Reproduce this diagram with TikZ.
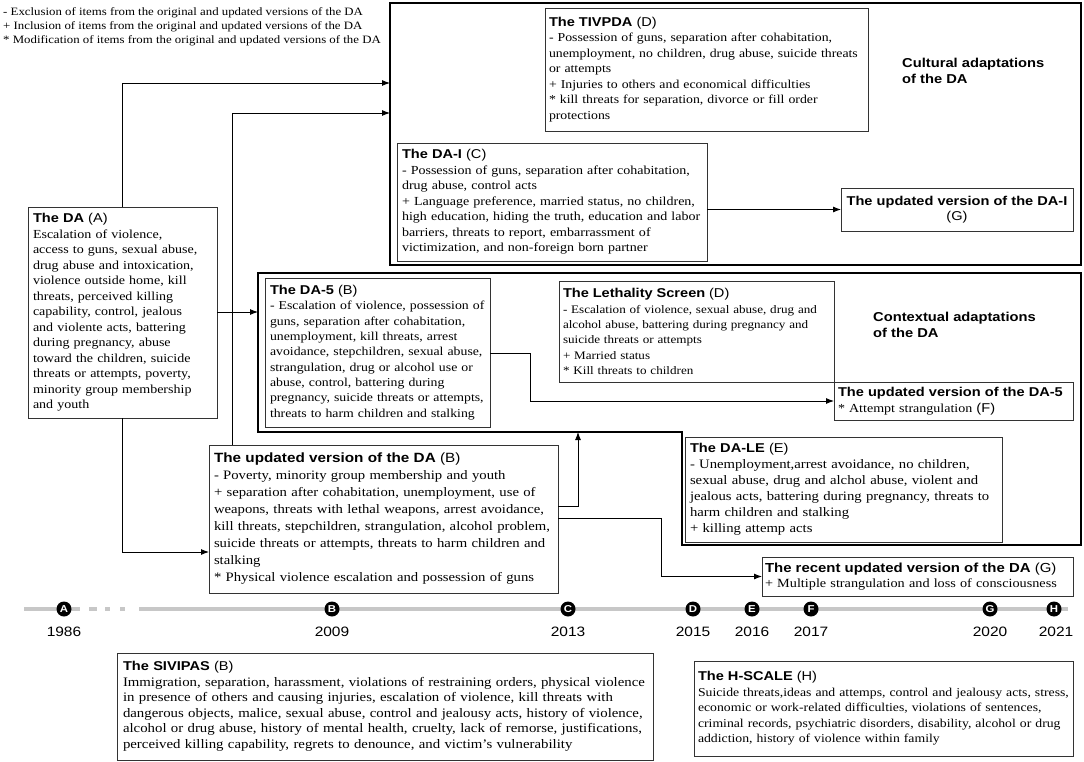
\documentclass[tikz,border=0pt]{standalone}
\usepackage{fontspec}
\setmainfont{Liberation Serif}[FakeStretch=1.14]
\newfontfamily\hd{Liberation Sans}[FakeStretch=1.14]
\usetikzlibrary{arrows.meta,calc}
\newcommand{\bt}[1]{{\hd\bfseries\fontsize{12.8}{15}\selectfont #1}}
\newcommand{\rt}[1]{{\hd\fontsize{12.8}{15}\selectfont #1}}
\newcommand{\jl}[1]{\makebox[179pt][s]{#1}}
\tikzset{
  box/.style={draw=black!80, line width=0.9pt, anchor=north west, align=left,
    inner xsep=5pt, inner ysep=3pt, outer sep=0pt, fill=white,
    font=\fontsize{12.3}{15.5}\selectfont},
  frame/.style={draw=black, line width=1.8pt},
  conn/.style={draw=black, line width=0.9pt},
  arr/.style={conn, -{Latex[length=8pt,width=6pt]}},
  tl/.style={draw=black!22, line width=4.5pt},
  tc/.style={circle, fill=black, text=white, inner sep=0pt, minimum size=15pt,
    font=\hd\bfseries\fontsize{10}{10}\selectfont},
  yr/.style={inner sep=0pt, font=\hd\fontsize{13.6}{14}\selectfont},
  lbl/.style={anchor=north west, align=left, inner sep=0pt,
    font=\hd\bfseries\fontsize{12.9}{16}\selectfont}
}
\begin{document}
\begin{tikzpicture}[x=1pt,y=-1pt]
\useasboundingbox (0,0) rectangle (1084,762);

% legend
\node[anchor=north west, align=left, inner sep=0pt,
  font=\fontsize{11.25}{14}\selectfont] (legend) at (3,7)
  {- Exclusion of items from the original and updated versions of the DA\\
   + Inclusion of items from the original and updated versions of the DA\\
   {}* Modification of items from the original and updated versions of the DA};

% cultural frame
\node[frame, anchor=north west, inner sep=0pt, outer sep=0pt,
  minimum width=691pt, minimum height=262pt] (cult) at (390,3) {};
\node[lbl] (cultlbl) at (902,58) {Cultural adaptations\\of the DA};

\node[box, inner xsep=4pt, text width=315pt, minimum height=123pt,
  font=\fontsize{12.1}{15.5}\selectfont] (tiv) at (545,8)
 {\bt{The TIVPDA} \rt{(D)}\\
  - Possession of guns, separation after cohabitation,\\
  unemployment, no children, drug abuse, suicide threats\\
  or attempts\\
  + Injuries to others and economical difficulties\\
  {}* kill threats for separation, divorce or fill order\\
  protections};

\node[box, text width=300pt, minimum height=118pt] (dai) at (397,143)
 {\bt{The DA-I} \rt{(C)}\\
  - Possession of guns, separation after cohabitation,\\
  drug abuse, control acts\\
  + Language preference, married status, no children,\\
  high education, hiding the truth, education and labor\\
  barriers, threats to report, embarrassment of\\
  victimization, and non-foreign born partner};

\node[box, align=center, inner xsep=3pt, text width=226pt, minimum height=43pt] (udai) at (841,188)
 {\bt{The updated version of the DA-I}\\\rt{(G)}};

% contextual frame
\coordinate (ctxin) at (258,312);
\coordinate (ctxbot) at (578,432);
\draw[frame] (258,273) -- (1081,273) -- (1081,545) -- (682,545) -- (682,432) -- (258,432) -- cycle;
\node[lbl] (ctxlbl) at (873,312) {Contextual adaptations\\of the DA};

\node[box, text width=215pt, minimum height=149pt, font=\fontsize{12.1}{15.3}\selectfont] (da5) at (265,278)
 {\bt{The DA-5} \rt{(B)}\\
  - Escalation of violence, possession of\\
  guns, separation after cohabitation,\\
  unemployment, kill threats, arrest\\
  avoidance, stepchildren, sexual abuse,\\
  strangulation, drug or alcohol use or\\
  abuse, control, battering during\\
  pregnancy, suicide threats or attempts,\\
  threats to harm children and stalking};

\node[box, inner xsep=4pt, text width=267pt, minimum height=101pt, font=\fontsize{11.5}{15.3}\selectfont] (leth) at (559,281)
 {\bt{The Lethality Screen} \rt{(D)}\\
  - Escalation of violence, sexual abuse, drug and\\
  alcohol abuse, battering during pregnancy and\\
  suicide threats or attempts\\
  + Married status\\
  {}* Kill threats to children};

\node[box, inner xsep=4pt, text width=231pt, minimum height=38pt] (uda5) at (834,382)
 {\bt{The updated version of the DA-5}\\
  {}* Attempt strangulation \rt{(F)}};

\node[box, text width=307pt, minimum height=105pt, font=\fontsize{12.9}{16}\selectfont] (dale) at (685,437)
 {\bt{The DA-LE} \rt{(E)}\\
  - Unemployment,arrest avoidance, no children,\\
  sexual abuse, drug and alchol abuse, violent and\\
  jealous acts, battering during pregnancy, threats to\\
  harm children and stalking\\
  + killing attemp acts};

% the DA
\node[box, text width=179pt, minimum height=211pt] (da) at (28,207)
 {\bt{The DA} \rt{(A)}\\
  \jl{Escalation of violence,}\\
  \jl{access to guns, sexual abuse,}\\
  \jl{drug abuse and intoxication,}\\
  \jl{violence outside home, kill}\\
  \jl{threats, perceived killing}\\
  \jl{capability, control, jealous}\\
  \jl{and violente acts, battering}\\
  \jl{during pregnancy, abuse}\\
  \jl{toward the children, suicide}\\
  \jl{threats or attempts, poverty,}\\
  \jl{minority group membership}\\
  and youth};

\node[box, text width=339pt, minimum height=148pt, font=\fontsize{12.9}{17}\selectfont] (uda) at (209,445)
 {{\hd\bfseries\fontsize{13.4}{17}\selectfont The updated version of the DA} {\hd\fontsize{13.4}{17}\selectfont (B)}\\
  - Poverty, minority group membership and youth\\
  + separation after cohabitation, unemployment, use of\\
  weapons, threats with lethal weapons, arrest avoidance,\\
  kill threats, stepchildren, strangulation, alcohol problem,\\
  suicide threats or attempts, threats to harm children and\\
  stalking\\
  {}* Physical violence escalation and possession of guns};

\node[box, inner xsep=3pt, text width=305pt, minimum height=39pt, font=\fontsize{12.5}{15.5}\selectfont] (rec) at (762,557)
 {{\hd\bfseries\fontsize{13.1}{15}\selectfont The recent updated version of the DA} {\hd\fontsize{13.1}{15}\selectfont (G)}\\
  + Multiple strangulation and loss of consciousness};

% connectors
\draw[arr] (da.north) |- ([yshift=-80pt]cult.north west);
\draw[arr] ([xshift=23pt]uda.north west) |- ([yshift=-110pt]cult.north west);
\draw[arr] (da.east |- ctxin) -- (ctxin);
\draw[arr] (da.south) |- ([yshift=-107pt]uda.north west);
\draw[arr] ([yshift=-61pt]uda.north east) -| (ctxbot);
\draw[arr] ([yshift=-73pt]uda.north east) -| ($(rec.west)+(-101,0)$) -- (rec.west);
\draw[arr] (dai.east |- udai.west) -- (udai.west);
\draw[arr] ([yshift=-75pt]da5.north east) -| ($(uda5.west)+(-304,0)$) -- (uda5.west);

% timeline
\draw[tl] (24,609) -- (80,609);
\draw[tl] (89,609) -- (97,609);
\draw[tl] (105,609) -- (110,609);
\draw[tl] (120,609) -- (125,609);
\draw[tl] (139,609) -- (1068,609);
\node[tc] (tA) at (64,609) {A};
\node[tc] (tB) at (332,609) {B};
\node[tc] (tC) at (568,609) {C};
\node[tc] (tD) at (693,609) {D};
\node[tc] (tE) at (752,609) {E};
\node[tc] (tF) at (811,609) {F};
\node[tc] (tG) at (990,609) {G};
\node[tc] (tH) at (1054,609) {H};
\node[yr] (yA) at (64,632) {1986};
\node[yr] (yB) at (332,632) {2009};
\node[yr] (yC) at (568,632) {2013};
\node[yr] (yD) at (693,632) {2015};
\node[yr] (yE) at (752,632) {2016};
\node[yr] (yF) at (811,632) {2017};
\node[yr] (yG) at (990,632) {2020};
\node[yr] (yH) at (1056,632) {2021};

% bottom boxes
\node[box, inner xsep=6pt, text width=524pt, minimum height=107pt, font=\fontsize{13}{15.5}\selectfont] (siv) at (117,653)
 {\bt{The SIVIPAS} \rt{(B)}\\
  Immigration, separation, harassment, violations of restraining orders, physical violence\\
  in presence of others and causing injuries, escalation of violence, kill threats with\\
  dangerous objects, malice, sexual abuse, control and jealousy acts, history of violence,\\
  alcohol or drug abuse, history of mental health, cruelty, lack of remorse, justifications,\\
  perceived killing capability, regrets to denounce, and victim’s vulnerability};

\node[box, inner xsep=4pt, text width=371pt, minimum height=95pt, font=\fontsize{12.05}{15.5}\selectfont] (hs) at (694,661)
 {\bt{The H-SCALE} \rt{(H)}\\
  Suicide threats,ideas and attemps, control and jealousy acts, stress,\\
  economic or work-related difficulties, violations of sentences,\\
  criminal records, psychiatric disorders, disability, alcohol or drug\\
  addiction, history of violence within family};
\end{tikzpicture}
\end{document}
